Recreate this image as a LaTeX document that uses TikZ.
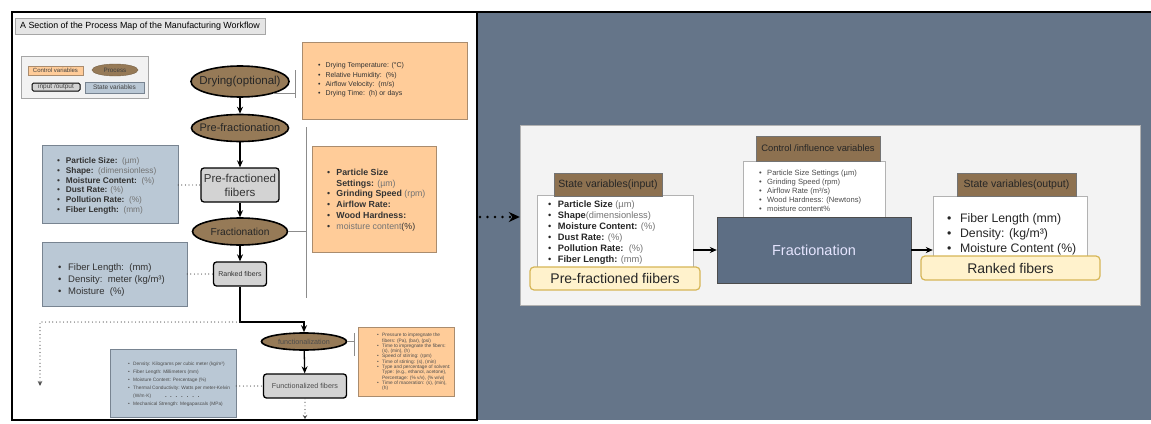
\documentclass[tikz,border=0pt]{standalone}
\usepackage{fontspec}
\setmainfont{Liberation Sans}
\usepackage{xcolor}
\usepackage{tikz}
\usetikzlibrary{arrows.meta,shapes.geometric}

\definecolor{ctrlfill}{RGB}{255,204,153}
\definecolor{ctrlline}{RGB}{170,140,110}
\definecolor{statefill}{RGB}{186,200,213}
\definecolor{stateline}{RGB}{120,132,145}
\definecolor{procbrown}{RGB}{150,122,87}
\definecolor{iogray}{RGB}{211,211,211}
\definecolor{slatebg}{RGB}{101,117,137}
\definecolor{panelgray}{RGB}{243,243,243}
\definecolor{labelbrown}{RGB}{141,113,80}
\definecolor{noteyellow}{RGB}{255,242,204}
\definecolor{noteline}{RGB}{214,182,86}
\definecolor{fracblue}{RGB}{93,110,132}
\definecolor{unitgray}{RGB}{115,115,115}

\newcommand{\itm}{\textbullet\hspace{0.7em}}
\newcommand{\itc}{\phantom{\textbullet}\hspace{0.7em}}
\newcommand{\vlab}[1]{\textbf{#1}}
\newcommand{\unt}[1]{\textcolor{unitgray}{#1}}
\newcommand{\fsz}[2]{\fontsize{#1}{#2}\selectfont}
\newcommand{\ctext}[1]{\makebox[0pt]{#1}}

\begin{document}
\begin{tikzpicture}[x=1pt,y=-1pt,>={Stealth[length=7pt,width=6pt]},
  proc/.style={ellipse,draw,line width=1.6pt,fill=procbrown,inner sep=0pt,text=black!85},
  iobox/.style={rectangle,rounded corners=3pt,draw,line width=1.3pt,fill=iogray,inner sep=0pt,align=center,text=black!80},
  ctrlbox/.style={rectangle,draw=ctrlline,fill=ctrlfill},
  statebox/.style={rectangle,draw=stateline,fill=statefill},
  listtext/.style={anchor=west,align=left,inner sep=0pt,text=black!80},
  flow/.style={->,line width=1.3pt},
  link/.style={line width=1.2pt,dash pattern=on 0pt off 3.6pt,line cap=round,black!70},
  sidebar/.style={black!45,line width=0.8pt},
  varlabel/.style={rectangle,draw=black!55,fill=labelbrown,inner sep=0pt,text=black!85},
  listbox/.style={rectangle,draw=black!30,fill=white},
  notebox/.style={rectangle,rounded corners=4pt,draw=noteline,line width=1.2pt,fill=noteyellow,inner sep=0pt,text=black!85}]
  \useasboundingbox (0,0) rectangle (1151,423);

  % frames
  \fill[slatebg] (477,12) rectangle (1151,420);
  \draw[line width=2.4pt,fill=white] (12,12) rectangle (477,420);
  \draw[line width=2.4pt] (477,12) -- (1151,12);

  % left panel: title and key
  \node[rectangle,draw=black!35,fill=black!10,minimum width=250pt,minimum height=16pt,inner sep=0pt,font=\fsz{8.9}{10}] (title) at (140,26) {A Section of the Process Map of the Manufacturing Workflow};
  \node[rectangle,draw=black!35,fill=black!5,minimum width=127pt,minimum height=42pt] (key) at (84.5,77) {};
  \node[ctrlbox,minimum width=55pt,minimum height=9.5pt,inner sep=0pt,font=\fsz{6}{7},text=black!75] (keyCtrl) at (55.5,70.5) {Control variables};
  \node[proc,line width=0.4pt,draw=procbrown!80!black,minimum width=46pt,minimum height=12pt,font=\fsz{6.3}{7},text=black!75] (keyProc) at (115,70) {Process};
  \node[iobox,line width=1pt,rounded corners=1.5pt,minimum width=48pt,minimum height=8pt,font=\fsz{6.5}{7},text=black!75] (keyIO) at (56,87) {input /output};
  \node[statebox,minimum width=59pt,minimum height=11pt,inner sep=0pt,font=\fsz{6.5}{7},text=black!75] (keyState) at (114.5,87.5) {State variables};

  % left panel: process chain
  \node[proc,minimum width=98pt,minimum height=31pt,font=\fsz{11.5}{13}] (dry) at (240,81.5) {\ctext{Drying(optional)}};
  \node[proc,minimum width=97pt,minimum height=27pt,font=\fsz{11}{13}] (prefrac) at (240,128) {\ctext{Pre-fractionation}};
  \node[iobox,minimum width=78pt,minimum height=34pt,font=\fsz{11.5}{14}] (pff) at (240,185) {Pre-fractioned\\fiibers};
  \node[proc,minimum width=95pt,minimum height=27pt,font=\fsz{10.2}{12}] (frac) at (240,231.5) {Fractionation};
  \node[iobox,minimum width=53pt,minimum height=24pt,font=\fsz{7}{8}] (ranked) at (240,274) {Ranked fibers};
  \node[proc,minimum width=85pt,minimum height=17pt,font=\fsz{7.2}{8},text=black!70] (func) at (304,341.5) {functionalization};
  \node[iobox,minimum width=83pt,minimum height=24pt,font=\fsz{7.2}{8},text=black!70] (funcfib) at (305,386) {Functionalized fibers};

  % left panel: variable boxes
  \node[ctrlbox,minimum width=165pt,minimum height=77pt] (dryCtrl) at (384.5,80.5) {};
  \node[listtext,font=\fsz{7}{9.3}] (dryList) at (318,80) {\itm Drying Temperature: (°C)\\
    \itm Relative Humidity:\ \ (\%)\\
    \itm Airflow Velocity:\ \ (m/s)\\
    \itm Drying Time:\ \ (h) or days};
  \node[statebox,minimum width=136pt,minimum height=78pt] (state1) at (110,184) {};
  \node[listtext,font=\fsz{8.3}{9.7}] (state1List) at (57,186) {\itm\vlab{Particle Size:}\ \ \unt{(µm)}\\
    \itm\vlab{Shape:}\ \ \unt{(dimensionless)}\\
    \itm\vlab{Moisture Content:}\ \ \unt{(\%)}\\
    \itm\vlab{Dust Rate:} \unt{(\%)}\\
    \itm\vlab{Pollution Rate:}\ \ \unt{(\%)}\\
    \itm\vlab{Fiber Length:}\ \ \unt{(mm)}};
  \node[ctrlbox,minimum width=124pt,minimum height=106pt] (ctrl2) at (374,199) {};
  \node[listtext,font=\fsz{8.8}{10.7}] (ctrl2List) at (327,200) {\itm\vlab{Particle Size}\\
    \itc\vlab{Settings:} \unt{(µm)}\\
    \itm\vlab{Grinding Speed} \unt{(rpm)}\\
    \itm\vlab{Airflow Rate:}\\
    \itm\vlab{Wood Hardness:}\\
    \itm\unt{moisture content}(\%)};
  \node[statebox,minimum width=145pt,minimum height=64pt] (state2) at (114.5,274) {};
  \node[listtext,font=\fsz{9.5}{12}] (state2List) at (58,280) {\itm Fiber Length:\ \ (mm)\\
    \itm Density:\ \ meter (kg/m³)\\
    \itm Moisture\ \ (\%)};
  \node[statebox,minimum width=126pt,minimum height=68pt] (state3) at (173,383) {};
  \node[listtext,font=\fsz{4.8}{8},text=black!70] (state3List) at (128,384) {\itm Density: Kilograms per cubic meter (kg/m³)\\
    \itm Fiber Length: Millimeters (mm)\\
    \itm Moisture Content: Percentage (\%)\\
    \itm Thermal Conductivity: Watts per meter-Kelvin\\
    \itc (W/m·K)\hspace{14pt}{\bfseries\fsz{6}{8}. \ . \ . \ . \ . \ . \ .}\\
    \itm Mechanical Strength: Megapascals (MPa)};
  \node[ctrlbox,minimum width=96pt,minimum height=69pt] (funcCtrl) at (406,361.5) {};
  \node[listtext,font=\fsz{4.8}{5.3},text=black!70] (funcList) at (377,362) {\itm Pressure to impregnate the\\
    \itc fibers: (Pa), (bar), (psi)\\
    \itm Time to impregnate the fibers:\\
    \itc (s), (min), (h)\\
    \itm Speed of stirring: (rpm)\\
    \itm Time of stirring: (s), (min)\\
    \itm Type and percentage of solvent:\\
    \itc Type: (e.g., ethanol, acetone),\\
    \itc Percentage: (\% v/v), (\% w/w)\\
    \itm Time of maceration: (s), (min),\\
    \itc (h)};

  % left panel: connectors
  \draw[flow] (dry) -- (prefrac);
  \draw[flow] (prefrac) -- (pff);
  \draw[flow] (pff) -- (frac);
  \draw[flow] (frac) -- (ranked);
  \coordinate (turn) at (240,322);
  \draw[flow] (ranked) -- (turn) -| (func);
  \draw[flow] (func) -- (funcfib);
  \coordinate (leftTurn) at (40,322);
  \coordinate (leftEnd) at (40,386);
  \draw[link,-{Stealth[length=5pt,width=4.5pt]}] (turn) -- (leftTurn) -- (leftEnd);
  \coordinate (bottomEnd) at (305,419);
  \draw[link,-{Stealth[length=4pt,width=4.5pt]}] (funcfib) -- (bottomEnd);
  \draw[link] (state1.east |- pff) -- (pff);
  \draw[link] (state2.east |- ranked) -- (ranked);
  \draw[link] (state3.east |- funcfib) -- (funcfib);
  \coordinate (dryTick) at (295,84);
  \draw[sidebar] (dry.-20) -- (dry.-20 -| dryTick);
  \draw[sidebar] (295,70) -- (295,98);
  \coordinate (fracTick) at (306,231.5);
  \draw[sidebar] (frac) -- (fracTick);
  \draw[sidebar] (306,127) -- (306,298);
  \coordinate (funcTick) at (354,341.5);
  \draw[sidebar] (func) -- (funcTick);
  \draw[sidebar] (354,333) -- (354,356);

  % right panel
  \node[rectangle,draw=black!30,fill=panelgray,minimum width=620pt,minimum height=180pt] (panel) at (830,215) {};
  \coordinate (linkIn) at (480,217);
  \draw[line width=2.6pt,dash pattern=on 0pt off 7.5pt,line cap=round,-{Stealth[length=11pt,width=10pt]}] (linkIn) -- (linkIn -| panel.west);

  \node[listbox,minimum width=156pt,minimum height=80pt] (inBox) at (615,235) {};
  \node[listtext,font=\fsz{9.3}{11},text=black!85] (inList) at (548,232.5) {\itm\vlab{Particle Size} \unt{(µm)}\\
    \itm\vlab{Shape}\unt{(dimensionless)}\\
    \itm\vlab{Moisture Content:} \unt{(\%)}\\
    \itm\vlab{Dust Rate:} \unt{(\%)}\\
    \itm\vlab{Pollution Rate:}\ \ \unt{(\%)}\\
    \itm\vlab{Fiber Length:} \unt{(mm)}};
  \node[varlabel,minimum width=108pt,minimum height=23pt,font=\fsz{10.5}{12}] (inLabel) at (608,184.5) {State variables(input)};
  \node[notebox,minimum width=170pt,minimum height=23pt,font=\fsz{14}{16}] (inNote) at (615,278.5) {Pre-fractioned fiibers};

  \node[listbox,minimum width=142pt,minimum height=60pt] (ctrlBox) at (814,191) {};
  \node[listtext,font=\fsz{7.6}{9},text=black!70] (ctrlList) at (759,191) {\itm Particle Size Settings (µm)\\
    \itm Grinding Speed (rpm)\\
    \itm Airflow Rate (m³/s)\\
    \itm Wood Hardness: (Newtons)\\
    \itm moisture content\%};
  \node[varlabel,minimum width=124pt,minimum height=25pt,font=\fsz{9.4}{11}] (ctrlLabel) at (818,148.5) {Control /influence variables};
  \node[rectangle,draw=black!70,fill=fracblue,minimum width=194pt,minimum height=66pt,font=\fsz{14.5}{16},text=white!90!blue] (fracBox) at (814,250) {Fractionation};

  \node[listbox,minimum width=154pt,minimum height=76pt] (outBox) at (1010,234) {};
  \node[listtext,font=\fsz{12.3}{15},text=black!85] (outList) at (947,234) {\itm Fiber Length (mm)\\
    \itm Density: (kg/m³)\\
    \itm Moisture Content (\%)};
  \node[varlabel,minimum width=119pt,minimum height=23pt,font=\fsz{10.5}{12}] (outLabel) at (1016.5,184.5) {State variables(output)};
  \node[notebox,minimum width=179pt,minimum height=24pt,font=\fsz{14}{16}] (outNote) at (1010.5,268) {Ranked fibers};

  \draw[->,line width=1.2pt] (fracBox.west -| inBox.east) -- (fracBox.west);
  \draw[->,line width=1.2pt] (fracBox.east) -- (fracBox.east -| outBox.west);
\end{tikzpicture}
\end{document}
